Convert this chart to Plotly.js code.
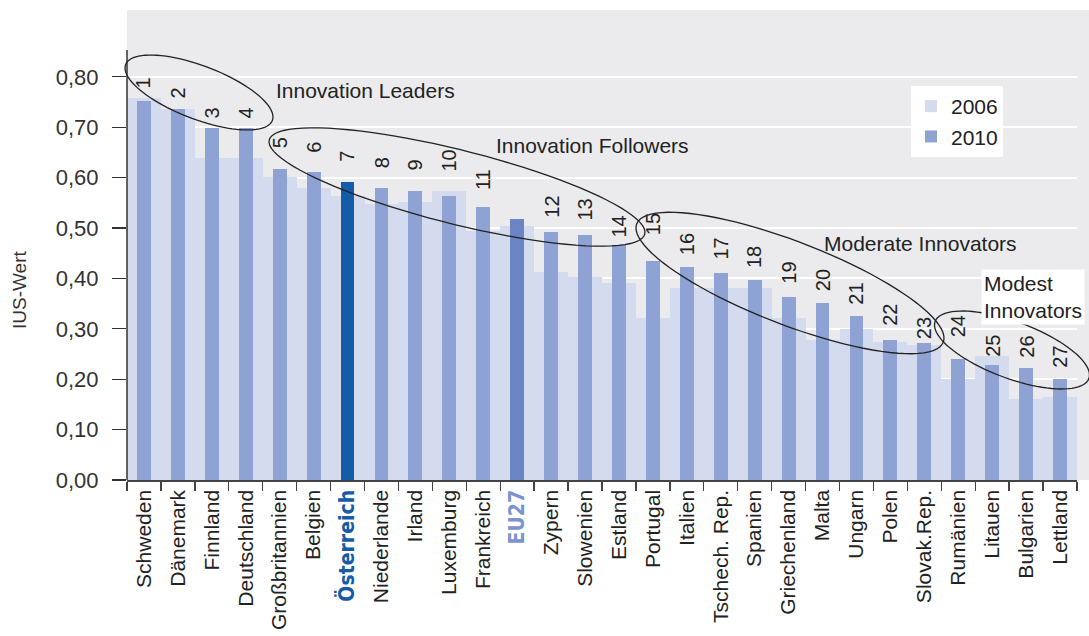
<!DOCTYPE html>
<html>
<head>
<meta charset="utf-8">
<script src="https://cdn.plot.ly/plotly-3.0.1.min.js"></script>
<style>
  html, body { margin: 0; padding: 0; background: #ffffff; }
  #chart { width: 1089px; height: 636px; }
</style>
</head>
<body>
<div id="chart"></div>
<script>
// ---------- data ----------
const categories = ["Schweden","Dänemark","Finnland","Deutschland","Großbritannien","Belgien","Österreich","Niederlande","Irland","Luxemburg","Frankreich","EU27","Zypern","Slowenien","Estland","Portugal","Italien","Tschech. Rep.","Spanien","Griechenland","Malta","Ungarn","Polen","Slovak.Rep.","Rumänien","Litauen","Bulgarien","Lettland"];
const values2006 = [0.757,0.737,0.639,0.639,0.601,0.580,0.563,0.548,0.552,0.574,0.495,0.504,0.412,0.403,0.391,0.321,0.381,0.381,0.381,0.322,0.277,0.299,0.273,0.268,0.200,0.246,0.160,0.165];
const values2010 = [0.752,0.736,0.698,0.698,0.617,0.612,0.592,0.579,0.574,0.563,0.541,0.517,0.493,0.487,0.467,0.434,0.422,0.411,0.396,0.363,0.352,0.325,0.277,0.272,0.240,0.229,0.223,0.201];
const ranks = ["1","2","3","4","5","6","7","8","9","10","11","","12","13","14","15","16","17","18","19","20","21","22","23","24","25","26","27"];
const yTicks = [0,0.1,0.2,0.3,0.4,0.5,0.6,0.7,0.8];
const seriesNames = ["2006","2010"];
const groupLabels = ["Innovation Leaders","Innovation Followers","Moderate Innovators","Modest<br>Innovators"];

// ---------- styling ----------
const FONT = "Liberation Sans, Arial, sans-serif";
const C_LIGHT = "#d5dbee", C_BAR = "#8ea2d3", C_AT = "#145ba8", C_EU = "#6b84c3", BG = "#ebebee";
const barColors = categories.map(c => c === "Österreich" ? C_AT : (c === "EU27" ? C_EU : C_BAR));
const tickText = categories.map(c => {
  if (c === "Österreich") return '<span style="font-family:\'Liberation Sans Narrow\',\'DejaVu Sans Condensed\',sans-serif;font-weight:bold;fill:' + C_AT + '">' + c + '</span>';
  if (c === "EU27") return '<span style="font-family:\'Liberation Sans Narrow\',\'DejaVu Sans Condensed\',sans-serif;font-weight:bold;fill:#7b93d0">' + c + '</span>';
  return c;
});
// vertical gap (px) between 2010 bar top and rank label
const rankGap = [13,11,10,10,21,19,20,20,20,25,17,0,14,14,7,26,12,13,12,13,11,12,15,4,22,8,10,11];

// plot box in pixels
const L = 127, R = 1077, T = 10, B = 480;
const px2x = px => (px - L) / (R - L);
const py2y = py => (B - py) / (B - T);

function ellipsePath(cx, cy, a, b, deg) {
  const th = deg * Math.PI / 180, n = 90;
  let d = "";
  for (let i = 0; i <= n; i++) {
    const t = 2 * Math.PI * i / n;
    const x = cx + a * Math.cos(t) * Math.cos(th) - b * Math.sin(t) * Math.sin(th);
    const y = cy + a * Math.cos(t) * Math.sin(th) + b * Math.sin(t) * Math.cos(th);
    d += (i === 0 ? "M" : "L") + px2x(x).toFixed(5) + "," + py2y(y).toFixed(5);
  }
  return d + "Z";
}

const traces = [
  {
    type: "bar", name: seriesNames[0], x: categories, y: values2006,
    width: 1, marker: { color: C_LIGHT, line: { width: 0 } }, hoverinfo: "x+y"
  },
  {
    type: "bar", name: seriesNames[1], x: categories, y: values2010,
    width: 0.41, marker: { color: barColors, line: { width: 0 } }, hoverinfo: "x+y"
  }
];

const annotations = [];
categories.forEach((c, i) => {
  if (!ranks[i]) return;
  annotations.push({
    x: c, y: values2010[i], xref: "x", yref: "y",
    text: ranks[i], showarrow: false, textangle: -90,
    xanchor: "center", yanchor: "bottom", yshift: rankGap[i] - 2,
    font: { family: FONT, size: 20, color: "#222" }
  });
});
annotations.push(
  { xref: "paper", yref: "paper", x: px2x(274), y: py2y(90), xanchor: "left", yanchor: "middle",
    text: groupLabels[0], showarrow: false, font: { family: FONT, size: 21, color: "#222" } },
  { xref: "paper", yref: "paper", x: px2x(494), y: py2y(145), xanchor: "left", yanchor: "middle",
    text: groupLabels[1], showarrow: false, font: { family: FONT, size: 21, color: "#222" } },
  { xref: "paper", yref: "paper", x: px2x(822), y: py2y(243), xanchor: "left", yanchor: "middle",
    text: groupLabels[2], showarrow: false, font: { family: FONT, size: 21, color: "#222" } },
  { xref: "paper", yref: "paper", x: px2x(981), y: py2y(269), xanchor: "left", yanchor: "top",
    text: groupLabels[3], align: "left", showarrow: false, bgcolor: "#ffffff", borderpad: 2,
    font: { family: FONT, size: 21, color: "#222" } },
  { xref: "paper", yref: "paper", x: px2x(19), y: py2y(290), xanchor: "center", yanchor: "middle",
    text: "IUS-Wert", textangle: -90, showarrow: false, font: { family: FONT, size: 19, color: "#333" } }
);

const shapes = [
  // grey panel continues to the right edge
  { type: "rect", xref: "paper", yref: "paper", x0: 1, x1: px2x(1089), y0: 0, y1: 1,
    fillcolor: BG, line: { width: 0 }, layer: "below" },
  // y axis line (shorter than the panel)
  { type: "line", xref: "paper", yref: "paper", x0: 0, x1: 0, y0: 0, y1: py2y(50),
    line: { color: "#333", width: 1.5 } },
  // group ellipses
  { type: "path", xref: "paper", yref: "paper", path: ellipsePath(199, 92.5, 78.5, 26.7, 20.85), line: { color: "#222", width: 1.3 } },
  { type: "path", xref: "paper", yref: "paper", path: ellipsePath(457, 187, 193.6, 37, 14.07), line: { color: "#222", width: 1.3 } },
  { type: "path", xref: "paper", yref: "paper", path: ellipsePath(790, 283, 164.3, 41.6, 21.1), line: { color: "#222", width: 1.3 } },
  { type: "path", xref: "paper", yref: "paper", path: ellipsePath(1012, 350, 82, 28.3, 20.4), line: { color: "#222", width: 1.3 } }
];

const layout = {
  width: 1089, height: 636,
  margin: { l: L, r: 1089 - R, t: T, b: 636 - B, pad: 0 },
  paper_bgcolor: "#ffffff", plot_bgcolor: BG,
  separators: ",.",
  barmode: "overlay", bargap: 0,
  font: { family: FONT, color: "#222" },
  showlegend: true,
  legend: {
    x: px2x(911), y: py2y(86), xanchor: "left", yanchor: "top",
    bgcolor: "#ffffff", borderwidth: 0, font: { family: FONT, size: 21, color: "#222" },
    traceorder: "normal", itemwidth: 30
  },
  xaxis: {
    type: "category", tickmode: "array", tickvals: categories, ticktext: tickText,
    tickangle: -90, tickfont: { family: FONT, size: 21, color: "#222" },
    ticks: "outside", ticklen: 9, tickcolor: "#444", tickwidth: 1.3, tickson: "boundaries",
    showline: true, linecolor: "#444", linewidth: 1.5, showgrid: false, zeroline: false,
    range: [-0.5, categories.length - 0.5], fixedrange: true
  },
  yaxis: {
    range: [0, (B - T) / 504], tickmode: "array", tickvals: yTicks, tickformat: ".2f",
    tickfont: { family: FONT, size: 22, color: "#333" },
    ticks: "outside", ticklen: 14, tickcolor: "#333", tickwidth: 1.3, ticklabelstandoff: 9,
    showgrid: true, gridcolor: "#ffffff", gridwidth: 2, zeroline: false, showline: false,
    fixedrange: true
  },
  annotations: annotations,
  shapes: shapes
};

Plotly.newPlot("chart", traces, layout, { staticPlot: true, displayModeBar: false });
</script>
</body>
</html>
